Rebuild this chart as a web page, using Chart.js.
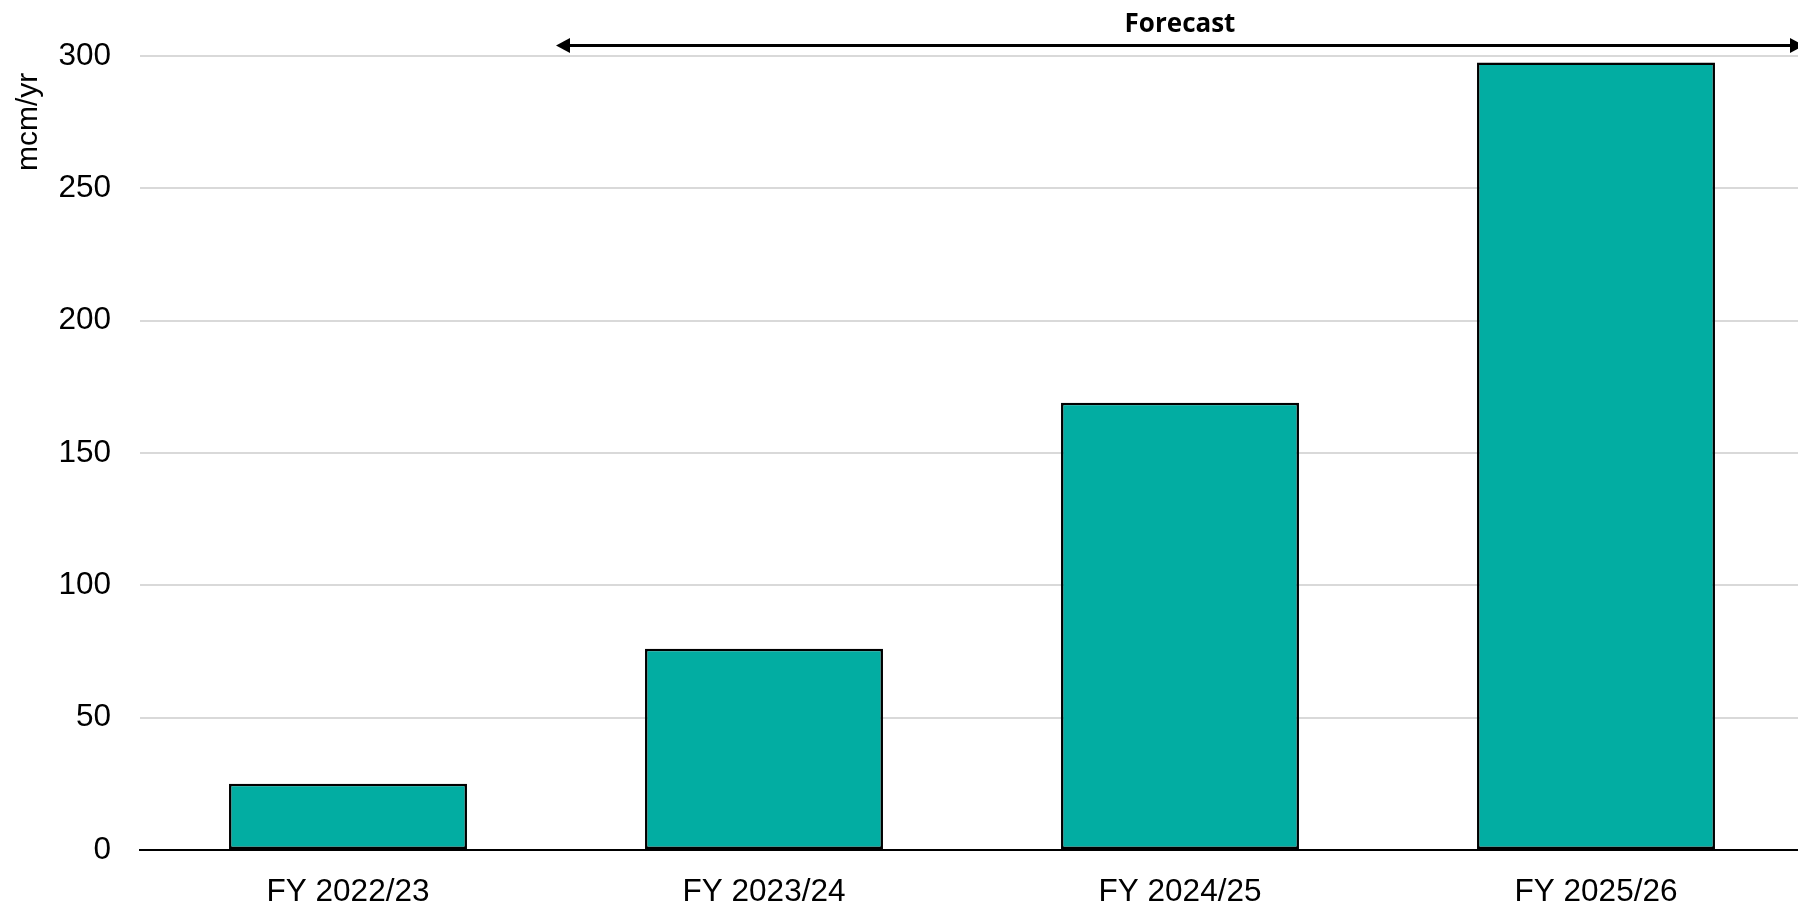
<!DOCTYPE html>
<html>
<head>
<meta charset="utf-8">
<script src="https://cdn.jsdelivr.net/npm/chart.js@4"></script>
<style>
    html, body { margin: 0; padding: 0; background: #fff; overflow: hidden; }
    #frame { width: 1798px; height: 908px; overflow: hidden; }
    #wrap { width: 1804px; height: 908px; position: relative; }
</style>
</head>
<body>
<div id="frame"><div id="wrap"><canvas id="chart"></canvas></div></div>
<script>
    // chart data
    const categories = ['FY 2022/23', 'FY 2023/24', 'FY 2024/25', 'FY 2025/26'];
    const volumes = [25, 76, 169, 297.5];
    const yTicks = [0, 50, 100, 150, 200, 250, 300];
    const forecastFrom = 0.5; // category boundary where forecast starts

    const TEAL = '#02ADA2';
    const FONT = "'Liberation Sans', Arial, sans-serif";

    // Draws the "Forecast" double arrow above the plot
    const forecastArrow = {
        id: 'forecastArrow',
        afterDraw(chart) {
            const ctx = chart.ctx;
            const x = chart.scales.x;
            const x0 = x.getPixelForValue(forecastFrom);
            const x1 = chart.chartArea.right;
            const y = 45.5;
            const head = 14, half = 7.5;

            ctx.save();
            ctx.strokeStyle = '#000';
            ctx.fillStyle = '#000';
            ctx.lineWidth = 3;
            ctx.beginPath();
            ctx.moveTo(x0 + head - 2, y);
            ctx.lineTo(x1 - head + 2, y);
            ctx.stroke();

            ctx.beginPath();
            ctx.moveTo(x0, y);
            ctx.lineTo(x0 + head, y - half);
            ctx.lineTo(x0 + head, y + half);
            ctx.closePath();
            ctx.fill();

            ctx.beginPath();
            ctx.moveTo(x1, y);
            ctx.lineTo(x1 - head, y - half);
            ctx.lineTo(x1 - head, y + half);
            ctx.closePath();
            ctx.fill();

            ctx.font = "bold 26px 'Open Sans', sans-serif";
            ctx.textAlign = 'center';
            ctx.textBaseline = 'alphabetic';
            ctx.fillText('Forecast', (x0 + x1) / 2, 31.5);
            ctx.restore();
        }
    };

    new Chart(document.getElementById('chart'), {
        type: 'bar',
        data: {
            labels: categories,
            datasets: [{
                data: volumes,
                backgroundColor: TEAL,
                borderColor: '#000',
                borderWidth: 2.5,
                borderSkipped: false,
                categoryPercentage: 1,
                barPercentage: 0.572
            }]
        },
        options: {
            responsive: true,
            maintainAspectRatio: false,
            animation: false,
            layout: { padding: { top: 56, right: 0, left: 0, bottom: 0 } },
            plugins: {
                legend: { display: false },
                tooltip: { enabled: false }
            },
            scales: {
                x: {
                    grid: { display: false, drawTicks: false },
                    border: { display: true, color: '#000', width: 2 },
                    ticks: {
                        color: '#000',
                        font: { family: FONT, size: 31.5 },
                        padding: 23,
                        maxRotation: 0
                    },
                    afterFit(scale) { scale.height = 58; }
                },
                y: {
                    min: 0,
                    max: 300,
                    afterBuildTicks(scale) {
                        scale.ticks = yTicks.map(v => ({ value: v }));
                    },
                    grid: {
                        color: ctx => ctx.tick && ctx.tick.value === 0 ? '#000' : '#d9d9d9',
                        lineWidth: 2,
                        drawTicks: false
                    },
                    border: { display: false },
                    ticks: {
                        color: '#000',
                        font: { family: FONT, size: 31.5 },
                        padding: 29
                    },
                    title: {
                        display: true,
                        text: 'mcm/yr  ',
                        align: 'end',
                        color: '#000',
                        font: { family: FONT, size: 30 },
                        padding: { top: 11, bottom: 0 }
                    },
                    afterFit(scale) { scale.width = 140; }
                }
            }
        },
        plugins: [forecastArrow]
    });
</script>
</body>
</html>
